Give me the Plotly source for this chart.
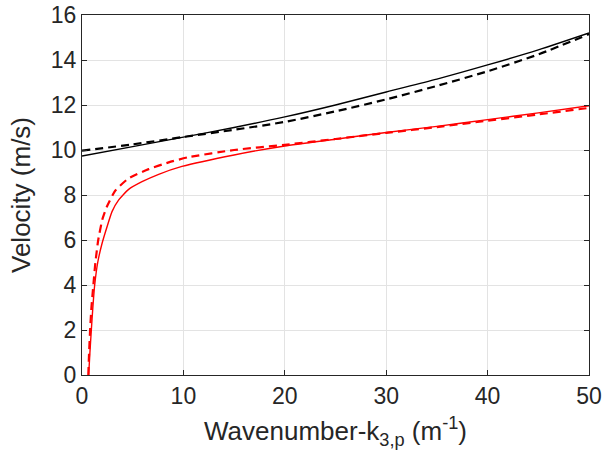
import plotly.graph_objects as go

# Black solid
k_black_solid = [0, 5, 10, 15, 20, 25, 30, 35, 40, 45, 50]
v_black_solid = [9.73, 10.15, 10.57, 11.0, 11.47, 12.0, 12.58, 13.15, 13.78, 14.45, 15.2]

# Black dashed
k_black_dash = [0, 5, 10, 15, 20, 25, 30, 35, 40, 45, 50]
v_black_dash = [9.97, 10.25, 10.58, 10.9, 11.25, 11.72, 12.25, 12.85, 13.5, 14.25, 15.15]

# Red solid
k_red_solid = [0.66, 0.78, 0.92, 1.07, 1.25, 1.55, 1.95, 2.47, 2.96, 3.62, 4.6, 5.92, 7.56, 9.86,
               15, 20, 25, 30, 35, 40, 45, 50]
v_red_solid = [0, 1, 2, 3, 4, 5, 5.8, 6.59, 7.26, 7.78, 8.25, 8.59, 8.92, 9.27,
               9.78, 10.18, 10.48, 10.78, 11.05, 11.35, 11.65, 11.97]

# Red dashed
k_red_dash = [0.62, 0.7, 0.8, 0.93, 1.12, 1.32, 1.6, 2.0, 2.47, 3.29, 4.6, 6.57, 8.55, 10.5,
              15, 20, 25, 30, 35, 40, 45, 50]
v_red_dash = [0, 1, 2, 3, 4, 5, 6, 6.9, 7.5, 8.2, 8.74, 9.15, 9.45, 9.68,
              10.0, 10.23, 10.49, 10.76, 11.02, 11.3, 11.58, 11.87]

x_ticks = [0, 10, 20, 30, 40, 50]
y_ticks = [0, 2, 4, 6, 8, 10, 12, 14, 16]

fig = go.Figure()
fig.add_trace(go.Scatter(x=k_black_solid, y=v_black_solid, mode="lines",
                         line=dict(color="black", width=1.4, shape="spline", smoothing=0.8)))
fig.add_trace(go.Scatter(x=k_black_dash, y=v_black_dash, mode="lines",
                         line=dict(color="black", width=2.2, dash="8px,5px", shape="spline", smoothing=0.8)))
fig.add_trace(go.Scatter(x=k_red_solid, y=v_red_solid, mode="lines",
                         line=dict(color="#ff0000", width=1.4, shape="spline", smoothing=0.5)))
fig.add_trace(go.Scatter(x=k_red_dash, y=v_red_dash, mode="lines",
                         line=dict(color="#ff0000", width=2.2, dash="8px,5px", shape="spline", smoothing=0.5)))

axis_common = dict(
    showline=True, linecolor="#262626", linewidth=1, mirror="ticks",
    ticks="inside", ticklen=5, tickcolor="#262626", tickwidth=1,
    showgrid=True, gridcolor="#e3e3e3", gridwidth=1, zeroline=False,
    automargin=False,
    tickfont=dict(family="Liberation Sans, Arial, sans-serif", size=23, color="#262626"),
)

fig.update_layout(
    width=605, height=467,
    margin=dict(l=82, r=16, t=15, b=92),
    paper_bgcolor="white", plot_bgcolor="white",
    showlegend=False,
    font=dict(family="Liberation Sans, Arial, sans-serif", color="#262626"),
    xaxis=dict(range=[0, 50], tickvals=x_ticks,
               title=dict(text="Wavenumber-k<sub>3,p</sub> (m<sup>-1</sup>)",
                          font=dict(size=26), standoff=14),
               **axis_common),
    yaxis=dict(range=[0, 16], tickvals=y_ticks,
               title=dict(text="Velocity (m/s)", font=dict(size=26), standoff=12),
               **axis_common),
)

fig.write_html("out.html",
               config={"displayModeBar": False},
               post_script="document.body.style.margin='0';document.body.style.overflow='hidden';")
